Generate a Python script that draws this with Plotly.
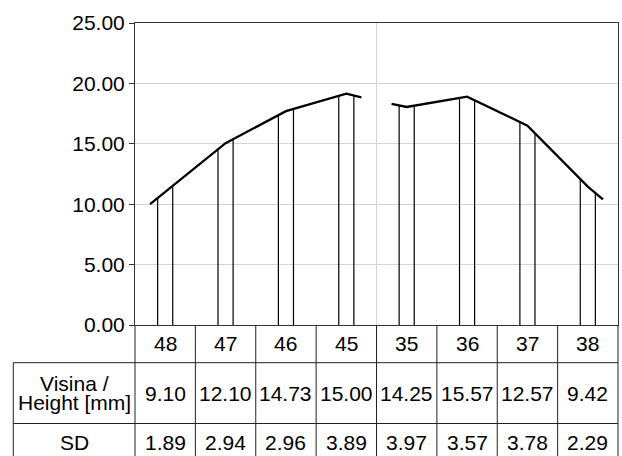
import numpy as np
import plotly.graph_objects as go

# ---------------- data ----------------
teeth = ["48", "47", "46", "45", "35", "36", "37", "38"]
height_mm = [9.10, 12.10, 14.73, 15.00, 14.25, 15.57, 12.57, 9.42]
sd_values = [1.89, 2.94, 2.96, 3.89, 3.97, 3.57, 3.78, 2.29]
row_labels = ["Visina /\nHeight [mm]", "SD"]
# drawn profile height at each tooth centre
profile = [11.0, 15.05, 17.7, 19.15, 18.05, 18.9, 16.5, 11.45]
# profile height at the outer ends of the two arch segments
profile_start = [10.0, 18.3]
profile_end = [18.85, 10.4]
y_ticks = [0, 5, 10, 15, 20, 25]

# ---------------- layout constants ----------------
W, H = 622, 456
L, R, T, B = 135, 4, 23, 131
plot_h = H - T - B
FONT = "Liberation Sans, Arial, sans-serif"
FS = 21
ext = 0.25      # extension of profile beyond outer teeth
off = 0.125     # half distance between the two vertical lines of a tooth


def py(pix):
    """pixel y (from top) -> paper y"""
    return (H - B - pix) / plot_h


fig = go.Figure()

n = len(teeth)
groups = [list(range(0, n // 2)), list(range(n // 2, n))]
vx, vy = [], []
for g, idx in enumerate(groups):
    xs = [idx[0] - ext] + idx + [idx[-1] + ext]
    ys = [profile_start[g]] + [profile[i] for i in idx] + [profile_end[g]]
    fig.add_trace(go.Scatter(x=xs, y=ys, mode="lines",
                             line=dict(color="black", width=2.3),
                             hoverinfo="skip", showlegend=False))
    for i in idx:
        for d in (-off, off):
            x = i + d
            top = float(np.interp(x, xs, ys))
            vx += [x, x, None]
            vy += [0, top, None]
fig.add_trace(go.Scatter(x=vx, y=vy, mode="lines",
                         line=dict(color="black", width=1.2),
                         hoverinfo="skip", showlegend=False))

shapes = []
line_c = "#222222"
# middle gridline
shapes.append(dict(type="line", xref="paper", yref="paper", x0=0.5, x1=0.5,
                   y0=0, y1=1, line=dict(color="#d4d4d4", width=1), layer="below"))
left_edge = (13.3 - L) / (W - L - R)
y_hdr = py(362.7)
y_row = py(423.5)
y_bot = py(470)
for yy in (y_hdr, y_row):
    shapes.append(dict(type="line", xref="paper", yref="paper", x0=left_edge, x1=1,
                       y0=yy, y1=yy, line=dict(color=line_c, width=1)))
shapes.append(dict(type="line", xref="paper", yref="paper", x0=left_edge, x1=left_edge,
                   y0=y_hdr, y1=y_bot, line=dict(color=line_c, width=1)))
for k in range(n + 1):
    xp = k / n
    shapes.append(dict(type="line", xref="paper", yref="paper", x0=xp, x1=xp,
                       y0=0, y1=y_bot, line=dict(color=line_c, width=1)))

ann = []
y_c_hdr = py((H - B + 362.7) / 2)
y_c_h = py((362.7 + 423.5) / 2)
y_c_sd = py(442.7)
for i in range(n):
    ann.append(dict(x=i, xref="x", y=y_c_hdr, yref="paper", text=teeth[i],
                    showarrow=False, xanchor="center", yanchor="middle"))
    ann.append(dict(x=i, xref="x", y=y_c_h, yref="paper", text=f"{height_mm[i]:.2f}",
                    showarrow=False, xanchor="center", yanchor="middle"))
    ann.append(dict(x=i, xref="x", y=y_c_sd, yref="paper", text=f"{sd_values[i]:.2f}",
                    showarrow=False, xanchor="center", yanchor="middle"))
lab_x = left_edge / 2
row_centres = [(362.7 + 423.5) / 2, 442.7]
line_gap = 19
for lab, yc in zip(row_labels, row_centres):
    parts = lab.split("\n")
    k = len(parts)
    for j, part in enumerate(parts):
        ypix = yc + (j - (k - 1) / 2) * line_gap
        ann.append(dict(x=lab_x, xref="paper", y=py(ypix), yref="paper", text=part,
                        showarrow=False, xanchor="center", yanchor="middle",
                        borderpad=0))

fig.update_layout(
    width=W, height=H,
    margin=dict(l=L, r=R, t=T, b=B),
    paper_bgcolor="white", plot_bgcolor="white",
    font=dict(family=FONT, size=FS, color="black"),
    shapes=shapes, annotations=ann,
    xaxis=dict(range=[-0.5, n - 0.5], showticklabels=False, showgrid=False,
               zeroline=False, showline=True, mirror=True, linecolor="#333333",
               linewidth=1, ticks=""),
    yaxis=dict(range=[0, 25], tickvals=y_ticks, tickformat=".2f",
               showgrid=True, gridcolor="#d4d4d4", gridwidth=1, zeroline=False,
               showline=True, mirror=True, linecolor="#333333", linewidth=1,
               ticks="outside", ticklen=5, tickcolor="#333333",
               tickfont=dict(family=FONT, size=FS, color="black")),
)

fig.write_html("out.html", config={"displayModeBar": False},
               post_script="document.body.style.margin='0';")
